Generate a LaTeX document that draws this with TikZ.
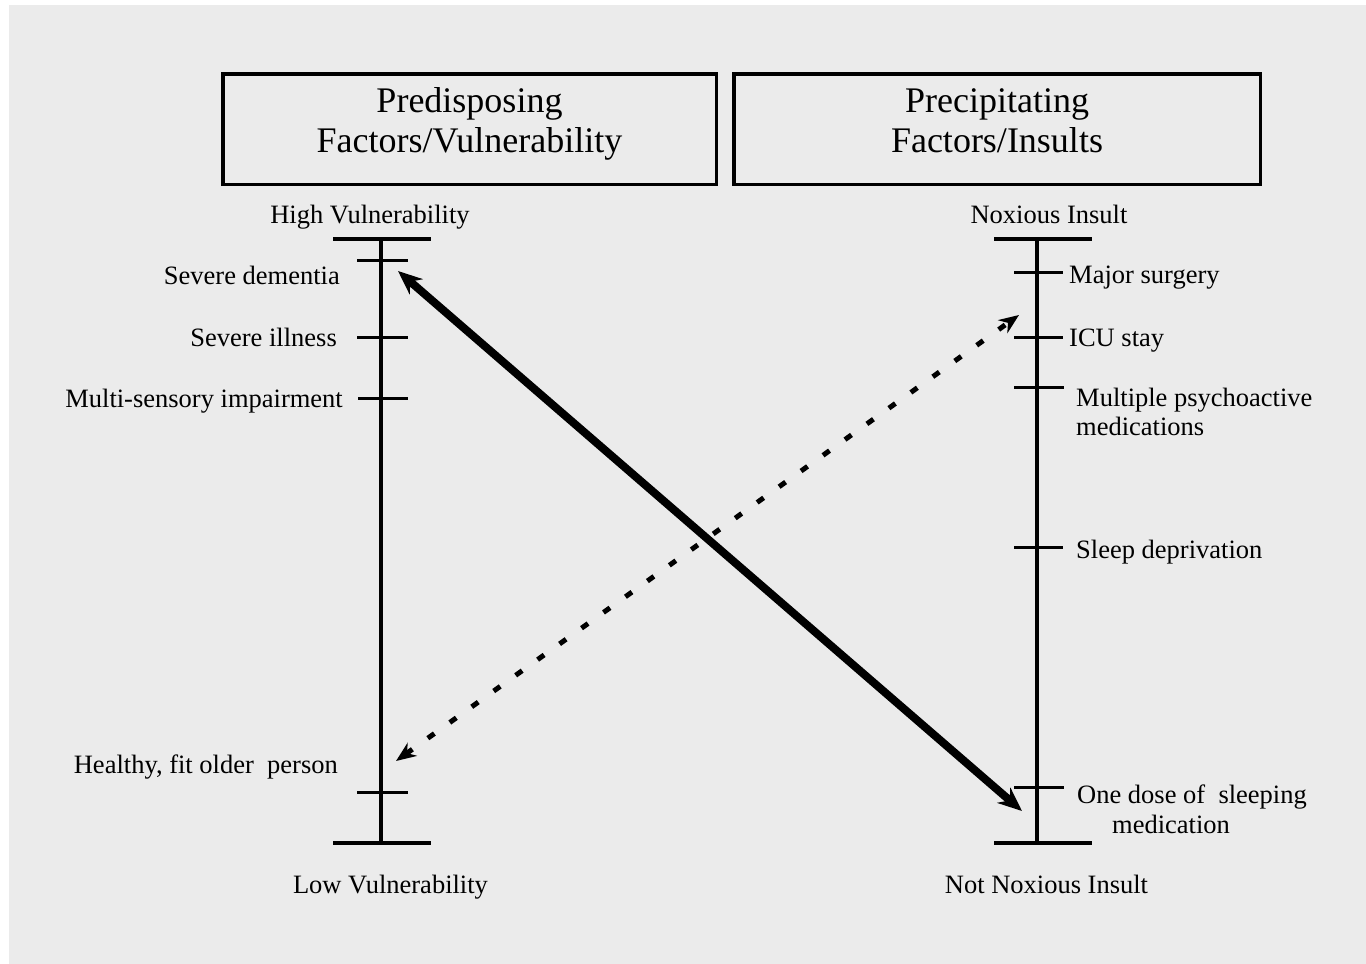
\documentclass[tikz,border=0pt]{standalone}
\usepackage{fontspec}
\setmainfont{Liberation Serif}
\usetikzlibrary{arrows.meta}

\colorlet{panel background color}{black!8}
\tikzset{
    x={1pt},
    y={-1pt},
    panel background/.style={
        fill=panel background color,
        draw=none,
    },
    factor box/.style={
        draw, line width={3.5pt},
        fill=none,
        inner sep=0pt,
        minimum width={493.5},
        minimum height={110.5},
    },
    factor title/.style={
        anchor=base,
        align=center,
        font={\fontsize{36}{40}\selectfont},
        inner sep=0pt,
    },
    scale line/.style={
        draw, line width={3.5pt},
    },
    scale tick/.style={
        draw, line width={3pt},
    },
    scale end label/.style={
        anchor=base,
        font={\fontsize{26.5}{30}\selectfont},
        inner sep=0pt,
    },
    left item/.style={
        anchor=base east,
        font={\fontsize{26.5}{30}\selectfont},
        inner sep=0pt,
    },
    right item/.style={
        anchor=base west,
        align=left,
        font={\fontsize{26.5}{29}\selectfont},
        inner sep=0pt,
    },
    strong swing/.style={
        draw, line width={8pt},
        {Stealth[length=24pt,width=20pt]}-{Stealth[length=24pt,width=20pt]},
    },
    weak swing/.style={
        draw, line width={5pt},
        dash pattern=on 8pt off 19pt,
        {Stealth[length=20pt,width=16pt]}-{Stealth[length=20pt,width=16pt]},
    },
}

\begin{document}
\begin{tikzpicture}
% background
\path[fill=white] (0,0) rectangle (1366,964);
\path[panel background] (9,5) rectangle (1366,964);
% factor boxes
\node[factor box] (predisposing box) at (469.5,129) {};
\node[factor title] (predisposing title) at (469.5,152) {Predisposing\\Factors/Vulnerability};
\node[factor box, minimum width={526.5}] (precipitating box) at (997,129) {};
\node[factor title] (precipitating title) at (997,152) {Precipitating\\Factors/Insults};
% scales
\path[scale line] (381,239) -- (381,843);
\path[scale line] (333,239) -- (431,239);
\path[scale line] (333,843) -- (431,843);
\path[scale line] (1037,239) -- (1037,843);
\path[scale line] (994,239) -- (1092,239);
\path[scale line] (994,843) -- (1092,843);
% ticks
\path[scale tick] (357,260) -- (408,260);
\path[scale tick] (357,337) -- (408,337);
\path[scale tick] (358,398) -- (408,398);
\path[scale tick] (357,792) -- (408,792);
\path[scale tick] (1014,272) -- (1063,272);
\path[scale tick] (1014,337) -- (1063,337);
\path[scale tick] (1014,387) -- (1064,387);
\path[scale tick] (1014,547) -- (1063,547);
\path[scale tick] (1014,787) -- (1064,787);
% labels
\node[scale end label] (high vulnerability) at (370,223) {High Vulnerability};
\node[scale end label] (low vulnerability) at (390.5,893) {Low Vulnerability};
\node[scale end label] (noxious insult) at (1049,223) {Noxious Insult};
\node[scale end label] (not noxious insult) at (1046.5,893) {Not Noxious Insult};
\node[left item] (severe dementia) at (340,284) {Severe dementia};
\node[left item] (severe illness) at (337,346) {Severe illness};
\node[left item] (sensory impairment) at (343,407) {Multi-sensory impairment};
\node[left item] (healthy person) at (338,773) {Healthy, fit older\ \ person};
\node[right item] (major surgery) at (1069,283) {Major surgery};
\node[right item] (icu stay) at (1069,346) {ICU stay};
\node[right item] (psychoactive medications) at (1076,435) {Multiple psychoactive\\medications};
\node[right item] (sleep deprivation) at (1076,558) {Sleep deprivation};
\node[right item, font={\fontsize{26.5}{30}\selectfont}] (sleeping medication) at (1077,833) {One dose of\ \ sleeping\\\hspace{35pt}medication};
% arrows
\coordinate (dementia end) at (398,271);
\coordinate (sleeping end) at (1022,811);
\coordinate (healthy end) at (396,761);
\coordinate (surgery end) at (1019,315);
\path[strong swing] (dementia end) -- (sleeping end);
\path[weak swing] (healthy end) -- (surgery end);
\end{tikzpicture}
\end{document}
